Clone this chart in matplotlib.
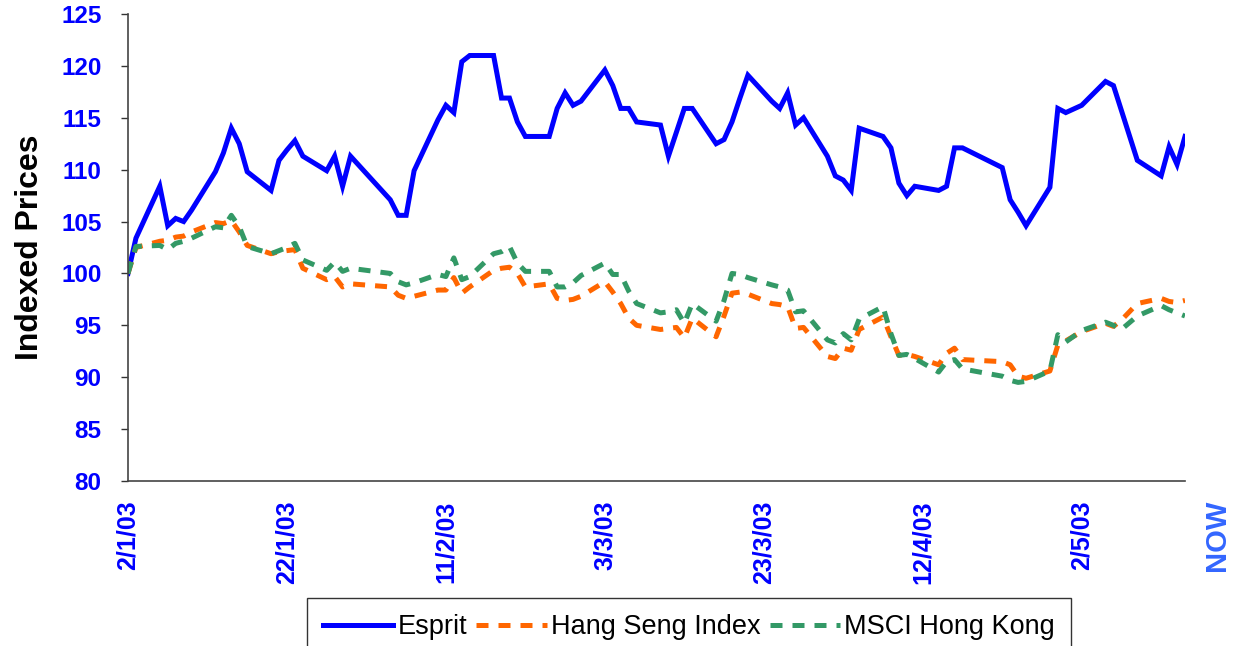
import matplotlib
matplotlib.use("Agg")
import matplotlib.pyplot as plt
import numpy as np
import pandas as pd

plt.rcParams['font.family'] = ['Liberation Sans', 'DejaVu Sans']

# trading days, 2 Jan 2003 - 15 May 2003
dates = [
    "2003-01-02", "2003-01-03", "2003-01-06", "2003-01-07", "2003-01-08", "2003-01-09", "2003-01-10",
    "2003-01-13", "2003-01-14", "2003-01-15", "2003-01-16", "2003-01-17",
    "2003-01-20", "2003-01-21", "2003-01-22", "2003-01-23", "2003-01-24",
    "2003-01-27", "2003-01-28", "2003-01-29", "2003-01-30",
    "2003-02-04", "2003-02-05", "2003-02-06", "2003-02-07",
    "2003-02-10", "2003-02-11", "2003-02-12", "2003-02-13", "2003-02-14",
    "2003-02-17", "2003-02-18", "2003-02-19", "2003-02-20", "2003-02-21",
    "2003-02-24", "2003-02-25", "2003-02-26", "2003-02-27", "2003-02-28",
    "2003-03-03", "2003-03-04", "2003-03-05", "2003-03-06", "2003-03-07",
    "2003-03-10", "2003-03-11", "2003-03-12", "2003-03-13", "2003-03-14",
    "2003-03-17", "2003-03-18", "2003-03-19", "2003-03-20", "2003-03-21",
    "2003-03-24", "2003-03-25", "2003-03-26", "2003-03-27", "2003-03-28",
    "2003-03-31", "2003-04-01", "2003-04-02", "2003-04-03", "2003-04-04",
    "2003-04-07", "2003-04-08", "2003-04-09", "2003-04-10", "2003-04-11",
    "2003-04-14", "2003-04-15", "2003-04-16", "2003-04-17",
    "2003-04-22", "2003-04-23", "2003-04-24", "2003-04-25",
    "2003-04-28", "2003-04-29", "2003-04-30", "2003-05-02",
    "2003-05-05", "2003-05-06", "2003-05-07", "2003-05-09",
    "2003-05-12", "2003-05-13", "2003-05-14", "2003-05-15",
]

esprit = [
    100.0, 103.4, 108.4, 104.6, 105.3, 105.0, 106.1,
    109.8, 111.6, 114.0, 112.5, 109.8,
    108.0, 110.9, 111.9, 112.8, 111.3,
    109.9, 111.3, 108.4, 111.3,
    107.1, 105.6, 105.6, 109.9,
    114.8, 116.2, 115.5, 120.4, 121.0,
    121.0, 116.9, 116.9, 114.6, 113.2,
    113.2, 115.9, 117.4, 116.2, 116.6,
    119.6, 118.1, 115.9, 115.9, 114.6,
    114.3, 111.3, 113.6, 115.9, 115.9,
    112.5, 112.9, 114.6, 116.9, 119.1,
    116.6, 115.9, 117.4, 114.3, 115.0,
    111.3, 109.4, 109.0, 108.0, 114.0,
    113.2, 112.1, 108.7, 107.5, 108.4,
    108.0, 108.4, 112.1, 112.1,
    110.2, 107.1, 105.9, 104.6,
    108.3, 115.9, 115.5, 116.2,
    118.5, 118.1, 115.7, 110.9,
    109.4, 112.2, 110.5, 113.2,
]

hang_seng = [
    100.0, 102.5, 103.1, 103.2, 103.5, 103.6, 104.0,
    104.9, 104.8, 105.1, 104.0, 102.7,
    101.9, 102.1, 102.2, 102.3, 100.5,
    99.4, 99.7, 98.7, 99.0,
    98.7, 97.9, 97.6, 97.8,
    98.4, 98.4, 99.6, 98.1, 98.7,
    100.3, 100.5, 100.6, 100.0, 98.7,
    99.0, 97.6, 97.4, 97.5, 97.8,
    99.2, 98.2, 97.1, 95.7, 95.0,
    94.6, 94.7, 94.8, 93.8, 95.7,
    93.9, 95.9, 98.1, 98.2, 98.0,
    97.1, 97.0, 96.8, 94.7, 94.8,
    92.0, 91.8, 92.8, 92.6, 94.6,
    95.8, 93.9, 92.1, 92.2, 92.0,
    91.2, 92.3, 92.8, 91.7,
    91.5, 91.2, 90.1, 89.9,
    90.6, 93.1, 93.5, 94.4,
    95.2, 94.9, 95.5, 97.1,
    97.6, 97.3, 97.2, 97.4,
]

msci_hk = [
    100.0, 102.6, 102.7, 102.3, 102.9, 103.1, 103.4,
    104.5, 104.4, 105.6, 104.5, 102.6,
    101.9, 102.2, 102.5, 102.9, 101.3,
    100.3, 101.1, 100.2, 100.5,
    100.0, 99.2, 98.9, 99.1,
    99.9, 99.7, 101.5, 99.4, 99.7,
    101.9, 102.1, 102.6, 101.0, 100.2,
    100.2, 98.7, 98.7, 99.1, 99.8,
    101.0, 99.9, 99.9, 98.3, 97.1,
    96.2, 96.3, 96.5, 95.2, 97.1,
    95.4, 97.4, 100.0, 99.9, 99.6,
    98.9, 98.7, 98.4, 96.3, 96.4,
    93.6, 93.3, 94.2, 93.6, 95.6,
    96.8, 94.2, 92.1, 92.2, 91.8,
    90.5, 91.5, 91.7, 90.8,
    90.1, 89.7, 89.5, 89.6,
    90.6, 94.1, 93.4, 94.5,
    95.3, 95.0, 94.6, 95.9,
    96.9, 96.5, 96.2, 95.9,
]

tick_dates = ["2003-01-02", "2003-01-22", "2003-02-11", "2003-03-03",
              "2003-03-23", "2003-04-12", "2003-05-02"]
tick_labels = ["2/1/03", "22/1/03", "11/2/03", "3/3/03", "23/3/03", "12/4/03", "2/5/03"]

x = pd.to_datetime(dates)

fig = plt.figure(figsize=(12.36, 6.46), dpi=100)
ax = fig.add_axes([128 / 1236, 1 - 481 / 646, (1185 - 128) / 1236, (481 - 14) / 646])

ax.plot(x, esprit, color='#0000FF', lw=3.6, solid_joinstyle='miter', label='Esprit')
ax.plot(x, hang_seng, color='#FF6600', lw=3.6, dashes=(2.4, 2.0), label='Hang Seng Index')
ax.plot(x, msci_hk, color='#339966', lw=3.6, dashes=(2.4, 2.0), label='MSCI Hong Kong')

ax.set_xlim(x[0], x[-1])
ax.set_ylim(80, 125)
ax.set_yticks(np.arange(80, 126, 5))

ax.set_xticks(pd.to_datetime(tick_dates))
ax.set_xticklabels(tick_labels, rotation=90, fontsize=18, fontweight='bold', color='#0000FF')
ax.tick_params(axis='x', length=0, pad=14)
ax.tick_params(axis='y', direction='out', length=5, width=1, pad=14, labelsize=17.5,
               labelcolor='#0000FF', color='#333333')
for t in ax.get_yticklabels():
    t.set_fontweight('bold')

ax.set_ylabel('Indexed Prices', fontsize=23, fontweight='bold', labelpad=12)

for s in ['top', 'right']:
    ax.spines[s].set_visible(False)
for s in ['left', 'bottom']:
    ax.spines[s].set_color('#444444')
    ax.spines[s].set_linewidth(1.2)

# "NOW" label just past the end of the axis
ax.text(pd.Timestamp("2003-05-19"), -0.04, 'NOW', transform=ax.get_xaxis_transform(),
        rotation=90, ha='center', va='top', fontsize=21, fontweight='bold',
        color='#3366FF', clip_on=False)

leg = fig.legend(loc='upper center', bbox_to_anchor=(689 / 1236, 1 - 598 / 646), ncol=3,
                 fontsize=19.5, frameon=True, fancybox=False, edgecolor='black',
                 handlelength=2.6, handletextpad=0.15, columnspacing=0.35, borderpad=0.6,
                 borderaxespad=0)
leg.get_frame().set_linewidth(1.0)

fig.savefig('out.png', dpi=100)
